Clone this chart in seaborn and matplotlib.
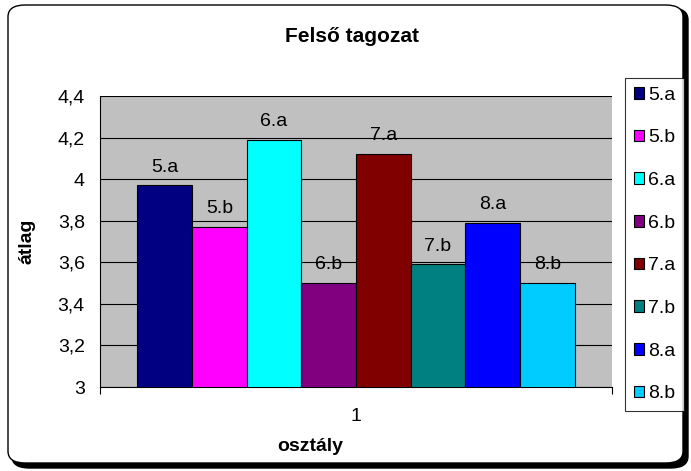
import matplotlib
matplotlib.use("Agg")
import matplotlib.pyplot as plt
import seaborn as sns
import pandas as pd
from matplotlib.patches import FancyBboxPatch

# adatok
osztalyok = ["5.a", "5.b", "6.a", "6.b", "7.a", "7.b", "8.a", "8.b"]
atlagok = [3.97, 3.77, 4.19, 3.50, 4.12, 3.59, 3.79, 3.50]
kategoria = ["1"] * len(osztalyok)
szinek = ["#000080", "#FF00FF", "#00FFFF", "#800080",
          "#800000", "#008080", "#0000FF", "#00CCFF"]
y_ticks = [3, 3.2, 3.4, 3.6, 3.8, 4, 4.2, 4.4]

df = pd.DataFrame({"kat": kategoria, "osztaly": osztalyok, "atlag": atlagok})

sns.set_style("white")
plt.rcParams["font.family"] = ["Liberation Sans", "DejaVu Sans"]
plt.rcParams["text.color"] = "black"

fig = plt.figure(figsize=(6.91, 4.71), dpi=100)
W, H = 691, 471

# keret árnyékkal
arnyek = FancyBboxPatch((12 / W, 3 / H), 676 / W, 460 / H,
                        boxstyle="round,pad=0,rounding_size=0.025",
                        transform=fig.transFigure, facecolor="black",
                        edgecolor="black", zorder=0)
keret = FancyBboxPatch((8 / W, 8 / H), 675 / W, 458 / H,
                       boxstyle="round,pad=0,rounding_size=0.025",
                       transform=fig.transFigure, facecolor="white",
                       edgecolor="black", linewidth=1.0, zorder=0)
fig.patches.extend([arnyek, keret])

ax = fig.add_axes([100 / W, 1 - 387 / H, 512 / W, 291 / H])
ax.set_zorder(2)

sns.barplot(data=df, x="kat", y="atlag", hue="osztaly", hue_order=osztalyok,
            palette=szinek, width=0.854, edgecolor="black", linewidth=0.8,
            saturation=1, ax=ax, zorder=3)

ax.set_facecolor("#C0C0C0")
ax.set_ylim(3, 4.4)
ax.set_xlim(-0.5, 0.5)
ax.set_yticks(y_ticks)
ax.set_yticklabels([f"{v:g}".replace(".", ",") for v in y_ticks], fontsize=14)
ax.yaxis.grid(True, color="black", linewidth=0.8)
ax.set_axisbelow(True)
ax.tick_params(axis="y", direction="out", length=5, width=0.8, color="black",
               pad=6, labelcolor="black")
ax.tick_params(axis="x", which="major", length=0, labelsize=14, pad=15,
               labelcolor="black")
ax.set_xticks([-0.5, 0.5], minor=True)
ax.tick_params(axis="x", which="minor", direction="out", length=5, width=0.8,
               color="black", bottom=True)
for s in ["top", "right"]:
    ax.spines[s].set_visible(False)
for s in ["left", "bottom"]:
    ax.spines[s].set_color("black")
    ax.spines[s].set_linewidth(0.8)

# feliratok az oszlopok felett
for cont, nev in zip(ax.containers, osztalyok):
    ax.bar_label(cont, labels=[nev], padding=7, fontsize=14, color="black")

ax.set_xlabel("osztály", fontsize=14, fontweight="bold", color="black")
ax.xaxis.set_label_coords(0.41, -0.175)
ax.set_ylabel("átlag", fontsize=14, fontweight="bold", color="black")
ax.yaxis.set_label_coords(-0.125, 0.5)

fig.text(352 / W, 1 - 37 / H, "Felső tagozat", ha="center", va="center",
         fontsize=15, fontweight="bold", color="black")

handles, labels = ax.get_legend_handles_labels()
if ax.legend_:
    ax.legend_.remove()
leg = fig.legend(handles, labels, loc="upper left",
                 bbox_to_anchor=(625 / W, 1 - 78 / H),
                 bbox_transform=fig.transFigure, borderaxespad=0,
                 fontsize=14, frameon=True, fancybox=False, shadow=False,
                 handlelength=0.55, handleheight=0.55, handletextpad=0.2,
                 labelspacing=1.32, borderpad=0.45)
leg.get_frame().set_edgecolor("black")
leg.get_frame().set_linewidth(0.8)

fig.savefig("out.png", dpi=100)
